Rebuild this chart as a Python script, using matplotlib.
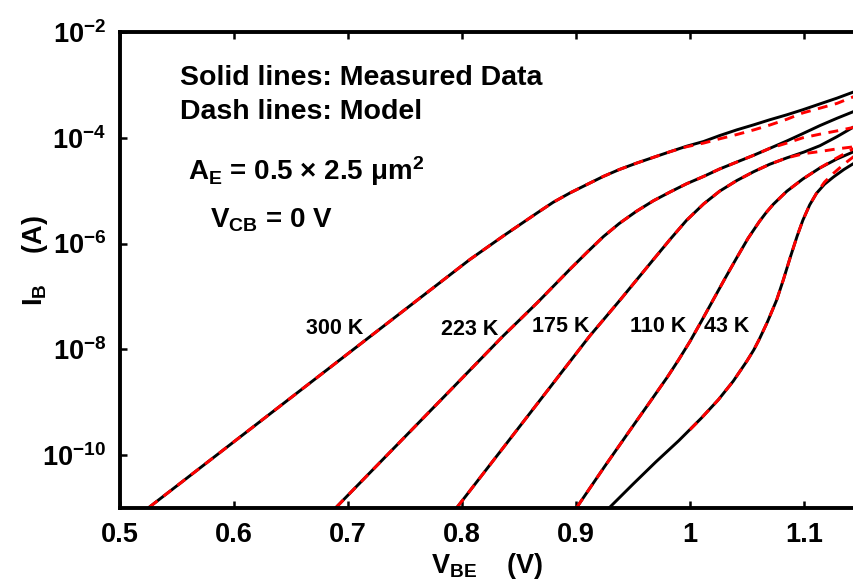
import matplotlib
matplotlib.use("Agg")
import matplotlib.pyplot as plt

plt.rcParams['font.family'] = ['Liberation Sans', 'DejaVu Sans']
plt.rcParams['font.weight'] = 'bold'
plt.rcParams['axes.labelweight'] = 'bold'
plt.rcParams['mathtext.default'] = 'regular'

# base current I_B (A) vs V_BE (V); solid = measured, dashed = model
v_300 = [0.526, 0.700, 0.807, 0.836, 0.851, 0.866, 0.880, 0.895, 0.910, 0.924, 0.938, 0.953, 0.968,
         0.983, 0.997, 1.012, 1.026, 1.041, 1.056, 1.070, 1.085, 1.099, 1.114, 1.129, 1.144]
ib_300 = [1.05e-11, 8.3e-9, 5.01e-7, 1.38e-6, 2.29e-6, 3.8e-6, 6.03e-6, 9.12e-6, 1.32e-5, 1.86e-5, 2.51e-5, 3.31e-5, 4.27e-5,
          5.5e-5, 6.92e-5, 8.51e-5, 1.1e-4, 1.41e-4, 1.76e-4, 2.19e-4, 2.72e-4, 3.39e-4, 4.37e-4, 5.62e-4, 7.41e-4]
v_300m = [0.526, 0.700, 0.807, 0.836, 0.851, 0.866, 0.880, 0.895, 0.910, 0.924, 0.938, 0.953, 0.968,
          0.983, 0.997, 1.012, 1.026, 1.041, 1.056, 1.070, 1.085, 1.099, 1.114, 1.129, 1.144]
ib_300m = [1.05e-11, 8.3e-9, 5.01e-7, 1.38e-6, 2.29e-6, 3.8e-6, 6.03e-6, 9.12e-6, 1.32e-5, 1.86e-5, 2.51e-5, 3.31e-5, 4.27e-5,
           5.5e-5, 6.76e-5, 7.94e-5, 9.55e-5, 1.15e-4, 1.41e-4, 1.74e-4, 2.24e-4, 2.95e-4, 3.63e-4, 4.47e-4, 6.03e-4]

v_223 = [0.690, 0.790, 0.836, 0.866, 0.895, 0.910, 0.924, 0.938, 0.953, 0.968, 0.983, 0.997,
         1.012, 1.026, 1.041, 1.056, 1.070, 1.085, 1.099, 1.114, 1.129, 1.144]
ib_223 = [1.05e-11, 1.7e-9, 1.78e-8, 7.59e-8, 3.31e-7, 6.92e-7, 1.35e-6, 2.4e-6, 4.07e-6, 6.46e-6, 9.55e-6, 1.35e-5,
          1.86e-5, 2.57e-5, 3.47e-5, 4.68e-5, 6.31e-5, 8.71e-5, 1.2e-4, 1.7e-4, 2.34e-4, 3.16e-4]
v_223m = [0.690, 0.790, 0.836, 0.866, 0.895, 0.910, 0.924, 0.938, 0.953, 0.968, 0.983, 0.997,
          1.012, 1.026, 1.041, 1.056, 1.070, 1.085, 1.099, 1.114, 1.129, 1.144]
ib_223m = [1.05e-11, 1.7e-9, 1.78e-8, 7.59e-8, 3.31e-7, 6.92e-7, 1.35e-6, 2.4e-6, 4.07e-6, 6.46e-6, 9.55e-6, 1.35e-5,
           1.86e-5, 2.57e-5, 3.47e-5, 4.68e-5, 6.31e-5, 7.94e-5, 1.0e-4, 1.17e-4, 1.35e-4, 1.58e-4]

v_175 = [0.796, 0.875, 0.912, 0.939, 0.968, 0.983, 0.997, 1.012, 1.026, 1.041, 1.056,
         1.070, 1.085, 1.100, 1.114, 1.129, 1.144]
ib_175 = [1.05e-11, 1.66e-9, 1.78e-8, 8.71e-8, 5.01e-7, 1.23e-6, 2.75e-6, 5.62e-6, 9.77e-6, 1.55e-5, 2.29e-5,
          3.16e-5, 4.17e-5, 5.37e-5, 7.08e-5, 1.05e-4, 1.62e-4]
v_175m = [0.796, 0.875, 0.912, 0.939, 0.968, 0.983, 0.997, 1.012, 1.026, 1.041, 1.056,
          1.070, 1.085, 1.100, 1.114, 1.129, 1.144]
ib_175m = [1.05e-11, 1.66e-9, 1.78e-8, 8.71e-8, 5.01e-7, 1.23e-6, 2.75e-6, 5.62e-6, 9.77e-6, 1.55e-5, 2.29e-5,
           3.16e-5, 4.17e-5, 5.01e-5, 5.5e-5, 6.17e-5, 6.76e-5]

v_110 = [0.901, 0.925, 0.950, 0.965, 0.980, 0.990, 1.000, 1.010, 1.021, 1.031, 1.041, 1.051,
         1.061, 1.067, 1.073, 1.085, 1.099, 1.114, 1.129, 1.144]
ib_110 = [1.05e-11, 6.03e-11, 3.55e-10, 1.02e-9, 2.95e-9, 6.31e-9, 1.41e-8, 3.39e-8, 9.12e-8, 2.24e-7, 5.37e-7, 1.26e-6,
          2.63e-6, 3.89e-6, 5.5e-6, 9.77e-6, 1.66e-5, 2.69e-5, 3.98e-5, 5.5e-5]
v_110m = [0.901, 0.925, 0.950, 0.965, 0.980, 0.990, 1.000, 1.010, 1.021, 1.031, 1.041, 1.051,
          1.061, 1.067, 1.073, 1.085, 1.099, 1.114, 1.129, 1.144]
ib_110m = [1.05e-11, 6.03e-11, 3.55e-10, 1.02e-9, 2.95e-9, 6.31e-9, 1.41e-8, 3.39e-8, 9.12e-8, 2.24e-7, 5.37e-7, 1.26e-6,
           2.63e-6, 3.89e-6, 5.5e-6, 9.77e-6, 1.66e-5, 2.69e-5, 4.17e-5, 6.31e-5]

v_43 = [0.930, 0.950, 0.970, 0.990, 1.010, 1.025, 1.038, 1.050, 1.056, 1.061, 1.068, 1.076, 1.082,
        1.088, 1.094, 1.099, 1.105, 1.111, 1.118, 1.126, 1.135, 1.144]
ib_43 = [1.05e-11, 2.82e-11, 7.41e-11, 1.86e-10, 5.01e-10, 1.12e-9, 2.51e-9, 6.03e-9, 9.77e-9, 1.58e-8, 3.31e-8, 8.51e-8, 2.09e-7,
         5.5e-7, 1.38e-6, 2.75e-6, 5.37e-6, 8.91e-6, 1.32e-5, 1.82e-5, 2.51e-5, 3.31e-5]
v_43m = [1.000, 1.010, 1.025, 1.038, 1.050, 1.056, 1.061, 1.068, 1.076, 1.082,
         1.088, 1.094, 1.099, 1.105, 1.111, 1.118, 1.126, 1.135, 1.144]
ib_43m = [3.02e-10, 5.01e-10, 1.12e-9, 2.51e-9, 6.03e-9, 9.77e-9, 1.58e-8, 3.31e-8, 8.51e-8, 2.09e-7,
          5.5e-7, 1.38e-6, 2.75e-6, 5.37e-6, 8.91e-6, 1.45e-5, 2.14e-5, 3.16e-5, 4.47e-5]

temps = ["300 K", "223 K", "175 K", "110 K", "43 K"]
label_v = [0.688, 0.807, 0.887, 0.972, 1.0325]
label_ib = [2.5e-8, 2.4e-8, 2.7e-8, 2.7e-8, 2.7e-8]

measured = [(v_300, ib_300), (v_223, ib_223), (v_175, ib_175), (v_110, ib_110), (v_43, ib_43)]
model = [(v_300m, ib_300m), (v_223m, ib_223m), (v_175m, ib_175m), (v_110m, ib_110m), (v_43m, ib_43m)]

fig = plt.figure(figsize=(8.54, 5.85), dpi=100)
ax = fig.add_axes([120/854, 77/585, 734/854, 476/585])

for v, ib in measured:
    ax.plot(v, ib, color='black', lw=2.1, solid_joinstyle='round')
for v, ib in model:
    ax.plot(v, ib, color='red', lw=2.1, dashes=(3.4, 2.6))

for t, v, ib in zip(temps, label_v, label_ib):
    ax.text(v, ib, t, fontsize=15.5, ha='center', va='center')

ax.set_yscale('log')
ax.set_xlim(0.5, 1.1439)
ax.set_ylim(1e-11, 1e-2)
ax.set_xticks([0.5, 0.6, 0.7, 0.8, 0.9, 1.0, 1.1])
ax.set_xticklabels(['0.5', '0.6', '0.7', '0.8', '0.9', '1', '1.1'])
ax.set_yticks([1e-10, 1e-8, 1e-6, 1e-4, 1e-2])
ax.yaxis.set_minor_locator(matplotlib.ticker.NullLocator())
ax.tick_params(which='both', direction='in', top=True, right=False,
               length=5, width=1.8, labelsize=19.5, pad=10)
ax.spines['right'].set_visible(False)
for s in ['left', 'top', 'bottom']:
    ax.spines[s].set_linewidth(2.8)

ax.set_xlabel('$V_{BE}$    (V)', fontsize=19.5, labelpad=2)
ax.set_ylabel('$I_{B}$    (A)', fontsize=19.5)
ax.yaxis.set_label_coords(-0.095, 0.52)

ax.text(0.0817, 0.903, 'Solid lines: Measured Data', transform=ax.transAxes,
        fontsize=20.5, va='center')
ax.text(0.0817, 0.832, 'Dash lines: Model', transform=ax.transAxes,
        fontsize=20.5, va='center')
ax.text(0.0926, 0.689, '$A_E$ = 0.5 × 2.5 μm$^2$', transform=ax.transAxes,
        fontsize=20, va='baseline')
ax.text(0.1226, 0.590, '$V_{CB}$ = 0 V', transform=ax.transAxes,
        fontsize=20, va='baseline')

fig.savefig('out.png', dpi=100)
